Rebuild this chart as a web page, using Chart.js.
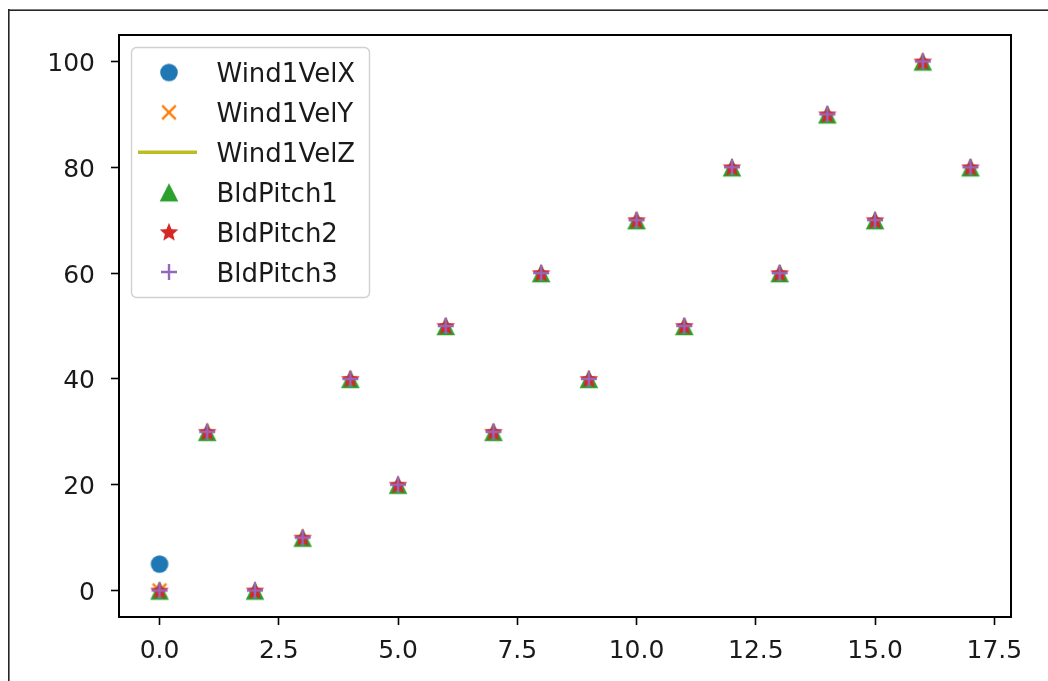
<!DOCTYPE html>
<html>
<head>
<meta charset="utf-8">
<script src="https://cdn.jsdelivr.net/npm/chart.js@4/dist/chart.umd.min.js"></script>
<style>
  html, body { margin: 0; padding: 0; background: #fff; }
  #wrap { position: relative; width: 1048px; height: 681px; overflow: hidden; }
  canvas { display: block; }
</style>
</head>
<body>
<div id="wrap"><canvas id="chart" width="1048" height="681"></canvas></div>
<script>
// Time steps and channel values
const timeSteps = [0, 1, 2, 3, 4, 5, 6, 7, 8, 9, 10, 11, 12, 13, 14, 15, 16, 17];
const wind1VelX = [5];
const wind1VelY = [0];
const wind1VelZ = [0];
const bldPitch1 = [0, 30, 0, 10, 40, 20, 50, 30, 60, 40, 70, 50, 80, 60, 90, 70, 100, 80];
const bldPitch2 = [0, 30, 0, 10, 40, 20, 50, 30, 60, 40, 70, 50, 80, 60, 90, 70, 100, 80];
const bldPitch3 = [0, 30, 0, 10, 40, 20, 50, 30, 60, 40, 70, 50, 80, 60, 90, 70, 100, 80];

// Axis ticks
const xTickValues = [0, 2.5, 5, 7.5, 10, 12.5, 15, 17.5];
const yTickValues = [0, 20, 40, 60, 80, 100];

const FONT = 'DejaVu Sans';
const C = {
  blue: '#1f77b4', orange: '#ff7f0e', olive: '#bcbd22',
  green: '#2ca02c', red: '#d62728', purple: '#9467bd'
};

// Small offscreen canvases used as marker glyphs
function glyph(size, draw) {
  const c = document.createElement('canvas');
  c.width = size; c.height = size;
  const g = c.getContext('2d');
  g.translate(size / 2, size / 2);
  draw(g);
  return c;
}
const circleMark = glyph(22, g => {
  g.fillStyle = C.blue; g.beginPath(); g.arc(0, 0, 8.8, 0, Math.PI * 2); g.fill();
});
const xMark = glyph(22, g => {
  g.strokeStyle = C.orange; g.lineWidth = 2.4; g.beginPath();
  g.moveTo(-6.8, -6.8); g.lineTo(6.8, 6.8); g.moveTo(-6.8, 6.8); g.lineTo(6.8, -6.8); g.stroke();
});
const triMark = glyph(24, g => {
  g.fillStyle = C.green; g.beginPath();
  g.moveTo(0, -9); g.lineTo(-9.3, 9.3); g.lineTo(9.3, 9.3); g.closePath(); g.fill();
});
const starMark = glyph(24, g => {
  g.fillStyle = C.red; g.beginPath();
  for (let i = 0; i < 10; i++) {
    const r = i % 2 === 0 ? 9.8 : 4.3;
    const a = -Math.PI / 2 + i * Math.PI / 5;
    const px = r * Math.cos(a), py = r * Math.sin(a) + 0.6;
    if (i === 0) g.moveTo(px, py); else g.lineTo(px, py);
  }
  g.closePath(); g.fill();
});
const plusMark = glyph(22, g => {
  g.strokeStyle = C.purple; g.lineWidth = 2.4; g.beginPath();
  g.moveTo(-8, 0); g.lineTo(8, 0); g.moveTo(0, -8); g.lineTo(0, 8); g.stroke();
});

function points(ys) {
  return ys.map((y, i) => ({ x: timeSteps[i], y }));
}
function markerSet(label, ys, mark, color, order) {
  return {
    label, data: points(ys), pointStyle: mark, pointRadius: 9,
    showLine: false, borderColor: color, backgroundColor: color, order
  };
}

const datasets = [
  markerSet('Wind1VelX', wind1VelX, circleMark, C.blue, 6),
  markerSet('Wind1VelY', wind1VelY, xMark, C.orange, 5),
  { label: 'Wind1VelZ', data: points(wind1VelZ), showLine: true, pointRadius: 0,
    borderColor: C.olive, backgroundColor: C.olive, borderWidth: 3.6, order: 4 },
  markerSet('BldPitch1', bldPitch1, triMark, C.green, 3),
  markerSet('BldPitch2', bldPitch2, starMark, C.red, 2),
  markerSet('BldPitch3', bldPitch3, plusMark, C.purple, 1)
];

// Page frame, plot spines and the boxed legend inside the plot
const decor = {
  id: 'decor',
  beforeDraw(chart) {
    const g = chart.ctx;
    g.save();
    g.fillStyle = '#fff';
    g.fillRect(0, 0, chart.width, chart.height);
    g.fillStyle = '#262626';
    g.fillRect(8, 9, 1.6, chart.height);
    g.fillRect(8, 9.4, chart.width, 1.6);
    g.restore();
  },
  afterDatasetsDraw(chart) {
    const g = chart.ctx, a = chart.chartArea;
    g.save();
    g.strokeStyle = '#000';
    g.lineWidth = 2;
    g.strokeRect(a.left, a.top, a.right - a.left, a.bottom - a.top);
    g.restore();
  },
  afterDraw(chart) {
    const g = chart.ctx, a = chart.chartArea;
    const bx = a.left + 12.5, by = a.top + 12.5, bw = 238, bh = 250, r = 5;
    g.save();
    g.beginPath();
    g.moveTo(bx + r, by);
    g.arcTo(bx + bw, by, bx + bw, by + bh, r);
    g.arcTo(bx + bw, by + bh, bx, by + bh, r);
    g.arcTo(bx, by + bh, bx, by, r);
    g.arcTo(bx, by, bx + bw, by, r);
    g.closePath();
    g.fillStyle = 'rgba(255,255,255,0.8)';
    g.fill();
    g.strokeStyle = '#d0d0d0';
    g.lineWidth = 1.4;
    g.stroke();

    const markX = bx + 37.5, textX = bx + 85, row0 = by + 25, rowStep = 39.9;
    g.font = '26px "' + FONT + '"';
    g.textAlign = 'left';
    g.textBaseline = 'alphabetic';
    chart.data.datasets.forEach((ds, i) => {
      const cy = row0 + i * rowStep;
      if (ds.showLine) {
        g.strokeStyle = ds.borderColor;
        g.lineWidth = 3.6;
        g.beginPath();
        g.moveTo(markX - 31, cy); g.lineTo(markX + 28, cy);
        g.stroke();
      } else {
        const m = ds.pointStyle;
        g.drawImage(m, markX - m.width / 2, cy - m.height / 2);
      }
      g.fillStyle = '#1a1a1a';
      g.fillText(ds.label, textX, cy + 9.5);
    });
    g.restore();
  }
};

new Chart(document.getElementById('chart'), {
  type: 'scatter',
  data: { datasets },
  options: {
    responsive: false,
    devicePixelRatio: 1,
    animation: false,
    events: [],
    layout: { padding: { left: 0, top: 35, right: 37, bottom: 0 } },
    plugins: { legend: { display: false }, tooltip: { enabled: false } },
    scales: {
      x: {
        type: 'linear', min: -0.85, max: 17.85,
        afterFit(s) { s.height = 64; },
        afterBuildTicks(s) { s.ticks = xTickValues.map(v => ({ value: v })); },
        grid: { display: true, drawOnChartArea: false, drawTicks: true, tickLength: 8, tickColor: '#000', tickWidth: 1.6 },
        border: { display: false },
        ticks: {
          padding: 11, color: '#1a1a1a', maxRotation: 0, autoSkip: false,
          font: { family: FONT, size: 25 },
          callback: v => Number(v).toFixed(1)
        }
      },
      y: {
        type: 'linear', min: -5, max: 105,
        afterFit(s) { s.width = 119; },
        afterBuildTicks(s) { s.ticks = yTickValues.map(v => ({ value: v })); },
        grid: { display: true, drawOnChartArea: false, drawTicks: true, tickLength: 8, tickColor: '#000', tickWidth: 1.6 },
        border: { display: false },
        ticks: {
          padding: 16, labelOffset: 3, color: '#1a1a1a', autoSkip: false,
          font: { family: FONT, size: 25 },
          callback: v => String(v)
        }
      }
    }
  },
  plugins: [decor]
});
</script>
</body>
</html>
